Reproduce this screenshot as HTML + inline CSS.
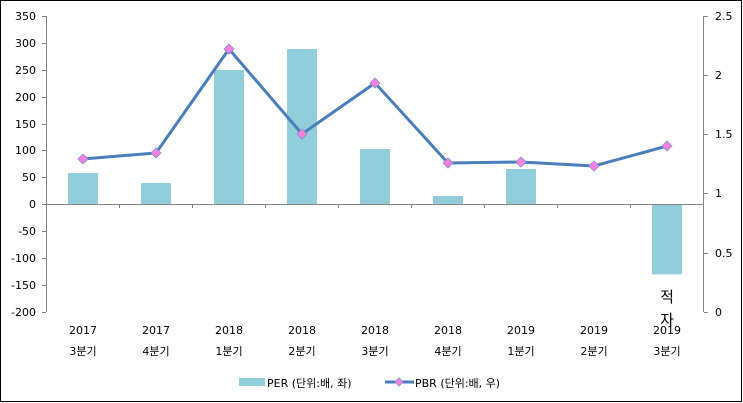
<!DOCTYPE html>
<html><head><meta charset="utf-8"><style>
html,body{margin:0;padding:0;background:#fff}
svg{display:block}
text{font-family:"DejaVu Sans","Noto Sans CJK KR",sans-serif;font-size:11px;fill:#000}
</style></head><body>
<svg width="743" height="403" viewBox="0 0 743 403">
<rect x="0.5" y="0.5" width="741" height="401" fill="#fff" stroke="#000" stroke-width="1"/>
<!-- bars -->
<g fill="#92cddc">
<rect x="68" y="173" width="30" height="31.4"/>
<rect x="141" y="183" width="30" height="21.4"/>
<rect x="214" y="70" width="30" height="134.4"/>
<rect x="287" y="49" width="30" height="155.4"/>
<rect x="360" y="149" width="30" height="55.4"/>
<rect x="433" y="196" width="30" height="8.4"/>
<rect x="506" y="169" width="30" height="35.4"/>
<rect x="652" y="204.4" width="30" height="70"/>
</g>
<!-- axes -->
<g stroke="#868686" stroke-width="1" fill="none">
<line x1="46.5" y1="16" x2="46.5" y2="312"/>
<line x1="703.5" y1="16" x2="703.5" y2="312"/>
<line x1="46.5" y1="204.5" x2="703.5" y2="204.5"/>
<path d="M42 16.5h4M42 43.5h4M42 70.5h4M42 97.5h4M42 124.5h4M42 150.5h4M42 177.5h4M42 204.5h4M42 231.5h4M42 258.5h4M42 285.5h4M42 312.5h4"/>
<path d="M704 16.5h4M704 75.5h4M704 134.5h4M704 193.5h4M704 253.5h4M704 312.5h4"/>
<path d="M119.5 204v4M192.5 204v4M265.5 204v4M338.5 204v4M411.5 204v4M484.5 204v4M557.5 204v4M630.5 204v4"/>
</g>
<g text-anchor="end">
<text x="36" y="20">350</text><text x="36" y="47">300</text><text x="36" y="74">250</text><text x="36" y="101">200</text><text x="36" y="128">150</text><text x="36" y="154">100</text><text x="36" y="181">50</text><text x="36" y="208">0</text><text x="36" y="235">-50</text><text x="36" y="262">-100</text><text x="36" y="289">-150</text><text x="36" y="316">-200</text>
</g>
<g>
<text x="715" y="20">2.5</text><text x="715" y="79">2</text><text x="715" y="138">1.5</text><text x="715" y="197">1</text><text x="715" y="257">0.5</text><text x="715" y="316">0</text>
</g>
<!-- line -->
<polyline fill="none" stroke="#4a7ebb" stroke-width="3" points="83,159 156,153 229,49 302,134 375,83 448,163 521,162 594,166 667,146"/>
<g fill="#ff80e0" stroke="#7f8fd0" stroke-width="0.8">
<path d="M83,154l5,5l-5,5l-5,-5z"/><path d="M156,148l5,5l-5,5l-5,-5z"/><path d="M229,44l5,5l-5,5l-5,-5z"/><path d="M302,129l5,5l-5,5l-5,-5z"/><path d="M375,78l5,5l-5,5l-5,-5z"/><path d="M448,158l5,5l-5,5l-5,-5z"/><path d="M521,157l5,5l-5,5l-5,-5z"/><path d="M594,161l5,5l-5,5l-5,-5z"/><path d="M667,141l5,5l-5,5l-5,-5z"/>
</g>
<text x="667" y="302" text-anchor="middle" style="font-size:15px">적</text>
<text x="667" y="325" text-anchor="middle" style="font-size:15px">자</text>
<g text-anchor="middle">
<text x="83" y="334">2017</text><text x="156" y="334">2017</text><text x="229" y="334">2018</text><text x="302" y="334">2018</text><text x="375" y="334">2018</text><text x="448" y="334">2018</text><text x="521" y="334">2019</text><text x="594" y="334">2019</text><text x="667" y="334">2019</text>
<text x="83" y="355">3분기</text><text x="156" y="355">4분기</text><text x="229" y="355">1분기</text><text x="302" y="355">2분기</text><text x="375" y="355">3분기</text><text x="448" y="355">4분기</text><text x="521" y="355">1분기</text><text x="594" y="355">2분기</text><text x="667" y="355">3분기</text>
</g>
<rect x="239" y="378" width="26" height="8" fill="#92cddc"/>
<text x="267" y="387">PER (단위:배, 좌)</text>
<line x1="385" y1="382" x2="414" y2="382" stroke="#4a7ebb" stroke-width="3"/>
<path d="M399,378l4,4l-4,4l-4,-4z" fill="#ff80e0" stroke="#7f8fd0" stroke-width="0.8"/>
<text x="415" y="387">PBR (단위:배, 우)</text>
</svg>
</body></html>
